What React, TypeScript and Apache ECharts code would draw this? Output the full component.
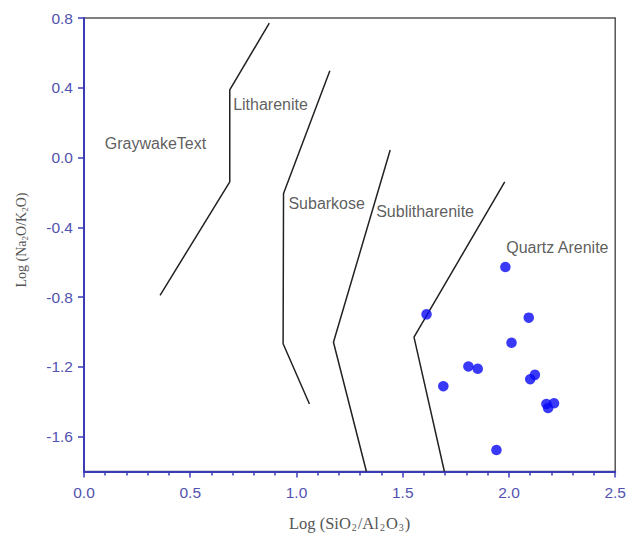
import React, { useEffect, useRef } from "react";
import * as echarts from "echarts";

// Boundary lines [log(SiO2/Al2O3), log(Na2O/K2O)]
const graywackeLitharenite: number[][] = [
  [0.358, -0.79],
  [0.686, -0.139],
  [0.686, 0.388],
  [0.872, 0.771],
];
const lithareniteSubarkose: number[][] = [
  [1.061, -1.413],
  [0.937, -1.068],
  [0.939, -0.206],
  [1.157, 0.497],
];
const subarkoseSublitharenite: number[][] = [
  [1.329, -1.8],
  [1.174, -1.059],
  [1.441, 0.043],
];
const sublithareniteQuartz: number[][] = [
  [1.696, -1.8],
  [1.553, -1.03],
  [1.98, -0.139],
];

// Sample points
const samplesX = [1.983, 1.612, 2.093, 2.012, 1.809, 1.853, 1.691, 2.1, 2.122, 2.176, 2.212, 2.184, 1.941];
const samplesY = [-0.628, -0.899, -0.918, -1.062, -1.198, -1.211, -1.311, -1.271, -1.246, -1.413, -1.409, -1.436, -1.677];

// Field names and where they sit
const fieldNames = ["GraywakeText", "Litharenite", "Subarkose", "Sublitharenite", "Quartz Arenite"];
const fieldX = [0.098, 0.702, 0.962, 1.375, 1.987];
const fieldY = [0.083, 0.302, -0.261, -0.311, -0.516];

const yTickValues = [-1.6, -1.2, -0.8, -0.4, 0.0, 0.4, 0.8];

export default function App() {
  const ref = useRef<HTMLDivElement>(null);
  useEffect(() => {
    document.body.style.margin = "0";
    if (!ref.current) return;
    const chart = echarts.init(ref.current, null, { renderer: "svg" });
    const axisBlue = "#3b3bb8";
    const labelBlue = "#5252b0";
    const lineStyle = { color: "#222", width: 1.5 };
    const mkLine = (d: number[][]) => ({
      type: "line",
      data: d,
      symbol: "none",
      lineStyle,
      silent: true,
    });
    chart.setOption({
      animation: false,
      backgroundColor: "#fff",
      grid: {
        left: 84,
        right: 7,
        top: 18,
        bottom: 67.5,
        show: true,
        borderColor: "#555",
        borderWidth: 1.5,
      },
      xAxis: {
        type: "value",
        min: 0,
        max: 2.5,
        interval: 0.5,
        splitLine: { show: false },
        axisLine: { show: true, onZero: false, lineStyle: { color: axisBlue, width: 2 } },
        axisTick: { show: true, length: 6, lineStyle: { color: axisBlue, width: 1.5 } },
        minorTick: { show: true, splitNumber: 5, length: 4, lineStyle: { color: axisBlue, width: 1.5 } },
        axisLabel: {
          color: labelBlue,
          fontFamily: "Liberation Sans",
          fontSize: 15.5,
          margin: 13,
          formatter: (v: number) => v.toFixed(1),
        },
        name: "Log (SiO{sub|2}/Al{sub|2}O{sub|3})",
        nameLocation: "middle",
        nameGap: 43,
        nameTextStyle: {
          color: "#555",
          fontFamily: "Liberation Serif",
          fontSize: 16.5,
          rich: {
            sub: {
              fontFamily: "Liberation Serif",
              fontSize: 10,
              color: "#555",
              verticalAlign: "bottom",
              padding: [8, 1, 0, 1],
            },
          },
        },
      },
      yAxis: {
        type: "value",
        min: -1.8,
        max: 0.8,
        splitLine: { show: false },
        axisLine: { show: true, onZero: false, lineStyle: { color: axisBlue, width: 2 } },
        axisTick: {
          show: true,
          length: 6,
          customValues: yTickValues,
          lineStyle: { color: axisBlue, width: 1.5 },
        },
        axisLabel: {
          color: labelBlue,
          fontFamily: "Liberation Sans",
          fontSize: 15.5,
          margin: 11,
          customValues: yTickValues,
          formatter: (v: number) => v.toFixed(1),
        },
      },
      graphic: [
        {
          type: "text",
          x: 21,
          y: 240,
          rotation: Math.PI / 2,
          style: {
            text: "Log (Na{sub|2}O/K{sub|2}O)",
            fill: "#555",
            font: "14px 'Liberation Serif'",
            align: "center",
            verticalAlign: "middle",
            rich: {
              sub: {
                fontFamily: "Liberation Serif",
                fontSize: 9,
                fill: "#555",
                verticalAlign: "bottom",
                padding: [7, 0, 0, 0],
              },
            },
          },
        },
      ],
      series: [
        mkLine(graywackeLitharenite),
        mkLine(lithareniteSubarkose),
        mkLine(subarkoseSublitharenite),
        mkLine(sublithareniteQuartz),
        {
          type: "scatter",
          data: samplesX.map((x, i) => [x, samplesY[i]]),
          symbol: "circle",
          symbolSize: 10.5,
          itemStyle: { color: "#0808f5" },
          z: 5,
        },
        {
          type: "scatter",
          data: fieldNames.map((n, i) => [fieldX[i], fieldY[i], n]),
          symbolSize: 0,
          silent: true,
          label: {
            show: true,
            position: "right",
            distance: 0,
            formatter: (p: any) => p.data[2],
            color: "#333",
            fontFamily: "Liberation Sans",
            fontSize: 16,
          },
        },
      ],
    });
    return () => chart.dispose();
  }, []);
  return <div ref={ref} style={{ width: 629, height: 539 }} />;
}
